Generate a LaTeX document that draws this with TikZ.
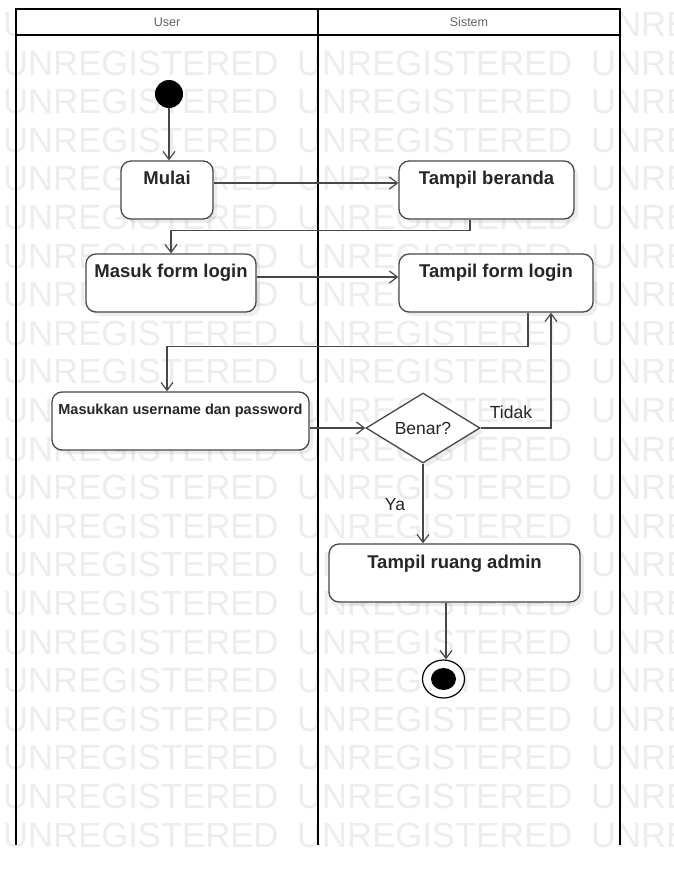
\documentclass[tikz,border=0pt]{standalone}
\usepackage{fontspec}
\setmainfont{Liberation Sans}
\usetikzlibrary{arrows.meta,shapes.geometric,shadows,calc}

\definecolor{wmgray}{RGB}{237,237,237}
\definecolor{linegray}{RGB}{72,72,72}
\definecolor{textdark}{RGB}{38,38,38}
\definecolor{headgray}{RGB}{100,100,100}

\tikzset{
  lane/.style={draw=black, line width=2.2pt},
  watermark/.style={text=wmgray, font=\fontsize{35}{38}\selectfont, xscale=0.99,
    anchor=base west, inner sep=0pt},
  headtext/.style={text=headgray, font=\fontsize{12.5}{14}\selectfont, inner sep=0pt},
  actbox/.style={draw=linegray, line width=1.3pt, fill=white, rounded corners=10pt,
    minimum height=58pt, inner sep=0pt,
    drop shadow={shadow xshift=4pt, shadow yshift=-4pt, fill=black, opacity=0.07}},
  boxtext/.style={text=textdark, font=\fontsize{18.5}{21}\selectfont\bfseries,
    anchor=base, yshift=-24pt, inner sep=0pt},
  smallboxtext/.style={text=textdark, font=\fontsize{14.5}{16}\selectfont\bfseries,
    anchor=base, yshift=-23pt, inner sep=0pt},
  decision/.style={diamond, draw=linegray, line width=1.3pt, fill=white,
    minimum width=114pt, minimum height=70pt, shape aspect=1.63, inner sep=0pt,
    text=textdark, font=\fontsize{17.5}{20}\selectfont,
    drop shadow={shadow xshift=4pt, shadow yshift=-4pt, fill=black, opacity=0.07}},
  guard/.style={text=textdark, font=\fontsize{17.5}{20}\selectfont, anchor=base, inner sep=0pt},
  flow/.style={draw=linegray, line width=1.2pt, -{Straight Barb[length=8pt,width=12pt]}},
}

\begin{document}
\begin{tikzpicture}[x=1pt,y=-1pt]
\useasboundingbox (0,0) rectangle (673,869);
\fill[white] (0,0) rectangle (673,869);

% repeated background stamp
\begin{scope}
  \clip (0,0) rectangle (673,869);
  \foreach \k in {0,...,21}{
    \foreach \j/\xx in {0/3,1/297,2/591}{
      \node[watermark] (wm-\k-\j) at (\xx,{36.5+38.6*\k}) {UNREGISTERED};
    }
  }
\end{scope}

% swimlanes
\fill[white] (16,9) rectangle (620,35);
\draw[lane, line join=miter] (16,845) -- (16,9) -- (620,9) -- (620,845);
\draw[lane] (318,9) -- (318,845);
\draw[lane, line width=2pt] (16,35) -- (620,35);
\node[headtext] (userhead) at (167,22.5) {User};
\node[headtext] (sistemhead) at (469,22.5) {Sistem};

% activities
\node[circle, fill=black, minimum size=28pt, inner sep=0pt] (start) at (169,94) {};

\node[actbox, minimum width=92pt] (mulai) at (167,190)
  {}; \node[boxtext] (mulaitext) at (mulai.north) {Mulai};
\node[actbox, minimum width=175pt] (beranda) at (486.5,190)
  {}; \node[boxtext] (berandatext) at (beranda.north) {Tampil beranda};
\node[actbox, minimum width=170pt] (masuk) at (171,283)
  {}; \node[boxtext] (masuktext) at (masuk.north) {Masuk form login};
\node[actbox, minimum width=194pt] (formlogin) at (496,283)
  {}; \node[boxtext] (formlogintext) at (formlogin.north) {Tampil form login};
\node[actbox, minimum width=257pt] (masukkan) at (180.5,421)
  {}; \node[smallboxtext] (masukkantext) at (masukkan.north) {Masukkan username dan password};
\node[decision] (benar) at (423,428) {Benar?};
\node[actbox, minimum width=251pt] (admin) at (454.5,573)
  {}; \node[boxtext, yshift=-1pt] (admintext) at (admin.north) {Tampil ruang admin};

\node[ellipse, draw=black, line width=1.2pt, fill=white,
  minimum width=42pt, minimum height=38pt, inner sep=0pt] (stop) at (443.5,679) {};
\node[ellipse, fill=black, minimum width=25pt, minimum height=22pt, inner sep=0pt]
  (stopdot) at (stop.center) {};

% control flow
\draw[flow] (start.south) -- (start.south |- mulai.north);
\draw[flow] ([yshift=7pt]mulai.east) -- ([yshift=7pt]mulai.east -| beranda.west);
\draw[flow] ([xshift=-16.5pt]beranda.south) -- ++(0,11) -| (masuk.north);
\draw[flow] ([yshift=6pt]masuk.east) -- ([yshift=6pt]masuk.east -| formlogin.west);
\draw[flow] ([xshift=32pt]formlogin.south) -- ++(0,34) -| ([xshift=-13.5pt]masukkan.north);
\draw[flow] ([yshift=-7pt]masukkan.east) -- (benar.west);
\draw[flow] (benar.east) -| ([xshift=55pt]formlogin.south);
\draw[flow] (benar.south) -- (benar.south |- admin.north);
\draw[flow] ([xshift=-8.5pt]admin.south) -- ([xshift=-8.5pt]admin.south |- stop.north);

% guards
\node[guard] (tidak) at (511,418) {Tidak};
\node[guard] (ya) at (395,510) {Ya};
\end{tikzpicture}
\end{document}
